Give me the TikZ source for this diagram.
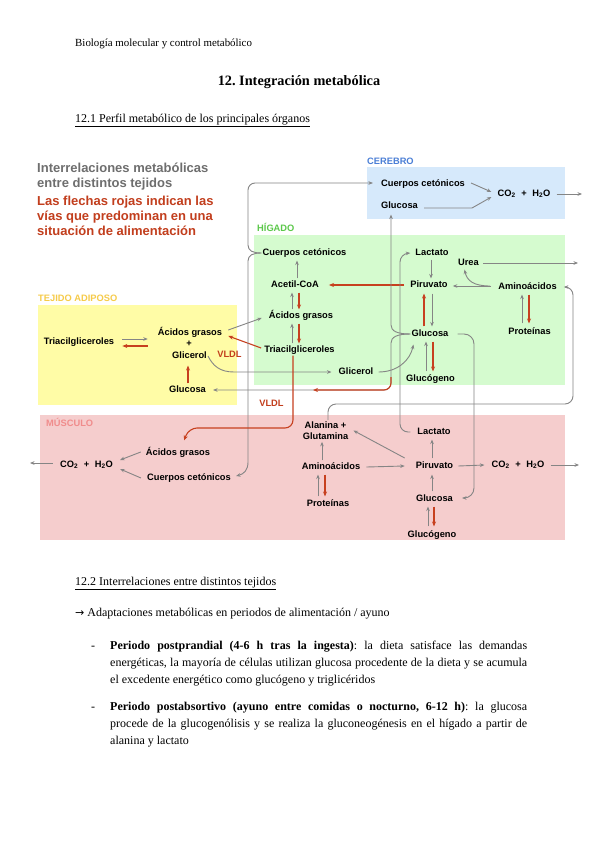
\documentclass[tikz,border=0pt]{standalone}
\usepackage{fontspec}
\setmainfont{Liberation Serif}
\newfontfamily\arialf{Liberation Sans}
\newfontfamily\arrowf{DejaVu Sans}
\usetikzlibrary{arrows.meta,calc}
\frenchspacing
\definecolor{gline}{HTML}{858585}
\definecolor{rline}{HTML}{C7401F}
\definecolor{gtitle}{HTML}{6E6E6E}
\definecolor{rtitle}{HTML}{C23E1D}
\definecolor{brainbg}{HTML}{D6E9FB}
\definecolor{liverbg}{HTML}{D5FBCF}
\definecolor{fatbg}{HTML}{FFFCA6}
\definecolor{musbg}{HTML}{F5CDCD}
\definecolor{brainlab}{HTML}{4B7FD6}
\definecolor{liverlab}{HTML}{5CC84B}
\definecolor{fatlab}{HTML}{F6CB4A}
\definecolor{muslab}{HTML}{F08C8C}
\newcommand\cotwo{CO\textsubscript{2}\hspace{3pt} +\hspace{3pt} H\textsubscript{2}O}
\tikzset{
  metb/.style={font=\arialf\bfseries\fontsize{9.3}{11.5}\selectfont, inner sep=1pt},
  met/.style={metb, text height=6.8pt, text depth=1.9pt},
  redlab/.style={met, text=rtitle},
  reglab/.style={font=\arialf\bfseries\fontsize{9.3}{11}\selectfont, inner sep=0pt, anchor=base west},
  bigt/.style={font=\arialf\bfseries\fontsize{13}{15}\selectfont, inner sep=0pt, anchor=base west},
  gar/.style={draw=gline, line width=0.9pt, -{Stealth[length=4.5pt,width=3.6pt]}},
  rar/.style={draw=rline, line width=1.1pt, -{Stealth[length=5pt,width=4pt]}},
  doc/.style={inner sep=0pt, anchor=base west, font=\fontsize{12}{17}\selectfont},
}
\begin{document}
\begin{tikzpicture}[x=1pt,y=-1pt]
\fill[white] (0,0) rectangle (600,848);
\useasboundingbox (0,0) rectangle (600,848);

% ---------- document text ----------
\node[doc, font=\fontsize{10.9}{12}\selectfont] (hdr) at (75,47) {Biología molecular y control metabólico};
\node[inner sep=0pt, anchor=base, font=\bfseries\fontsize{14.3}{16}\selectfont] (ttl) at (299,86) {12. Integración metabólica};
\node[doc] (s1) at (75,122) {\underline{12.1 Perfil metabólico de los principales órganos}};

% ---------- region boxes ----------
\fill[brainbg] (367,167) rectangle (565,219);
\fill[liverbg] (254,235) rectangle (565,385);
\fill[fatbg] (38,305) rectangle (237,405);
\fill[musbg] (40,415) rectangle (565,540);

\node[reglab, text=brainlab] (labB) at (367,164.5) {CEREBRO};
\node[reglab, text=liverlab] (labL) at (257,231.5) {HÍGADO};
\node[reglab, text=fatlab] (labA) at (38,301.5) {TEJIDO ADIPOSO};
\node[reglab, text=muslab] (labM) at (46,426.5) {MÚSCULO};

% ---------- diagram titles ----------
\node[bigt, text=gtitle] (t1) at (37,172) {Interrelaciones metabólicas};
\node[bigt, text=gtitle] (t2) at (37,187) {entre distintos tejidos};
\node[bigt, text=rtitle] (t3) at (37,205) {Las flechas rojas indican las};
\node[bigt, text=rtitle] (t4) at (37,220) {vías que predominan en una};
\node[bigt, text=rtitle] (t5) at (37,235) {situación de alimentación};

% ---------- brain ----------
\node[met] (bCC) at (423,184) {Cuerpos cetónicos};
\node[met] (bGlu) at (399.5,206) {Glucosa};
\node[met] (bCO) at (524,194) {\cotwo};
\coordinate (bOut) at (582,194);

% ---------- liver ----------
\node[met] (lCC) at (304.5,253) {Cuerpos cetónicos};
\node[met] (lAc) at (295,285) {Acetil-CoA};
\node[met] (lAG) at (301,316) {Ácidos grasos};
\node[met] (lTG) at (299.5,350) {Triacilgliceroles};
\node[met] (lGli) at (356,372) {Glicerol};
\node[met] (lLac) at (432,253) {Lactato};
\node[met] (lUrea) at (468.5,263) {Urea};
\node[met] (lPir) at (429,285) {Piruvato};
\node[met] (lAA) at (527.5,287) {Aminoácidos};
\node[met] (lProt) at (529.5,332) {Proteínas};
\node[met] (lGlu) at (430,334) {Glucosa};
\node[met] (lGlg) at (430.5,379) {Glucógeno};
\coordinate (uOut) at (578,263);

% ---------- adipose ----------
\node[met] (aTG) at (79,342) {Triacilgliceroles};
\node[met] (aAG) at (190,333) {Ácidos grasos};
\node[met] (aPlus) at (189,344.5) {+};
\node[met] (aGli) at (189.5,356) {Glicerol};
\node[met] (aGlu) at (187.5,390) {Glucosa};
\node[redlab] (vldl1) at (229.5,355) {VLDL};

% ---------- muscle ----------
\node[met] (mAG) at (178,453) {Ácidos grasos};
\node[met] (mCC) at (189,478) {Cuerpos cetónicos};
\node[met] (mCO) at (86.5,465) {\cotwo};
\node[metb, align=center] (mAla) at (325.5,430.5) {Alanina +\\Glutamina};
\node[met] (mAA) at (331,467) {Aminoácidos};
\node[met] (mProt) at (328,504) {Proteínas};
\node[met] (mLac) at (434,432) {Lactato};
\node[met] (mPir) at (434.5,466) {Piruvato};
\node[met] (mCOr) at (518,465) {\cotwo};
\node[met] (mGlu) at (434.5,499) {Glucosa};
\node[met] (mGlg) at (432,535) {Glucógeno};
\node[redlab] (vldl2) at (271.5,404) {VLDL};
\coordinate (mOutL) at (30,463);
\coordinate (mOutR) at (579,465);

% ---------- brain arrows ----------
\draw[gar] ($(bCC.east)+(5,-1)$) -- ($(bCO.west)+(-5,-2)$);
\draw[gar] ($(bGlu.east)+(5,2)$) -- (472,208) -- ($(bCO.west)+(-5,3)$);
\draw[gar] ($(bCO.east)+(5,0)$) -- (bOut);

% ---------- liver arrows ----------
\draw[gar] ($(lAc.north)+(2,-1)$) -- ($(lCC.south -| lAc)+(2,2)$);
\draw[gar] ($(lAG.north -| lAc)+(-3,-1)$) -- ($(lAc.south)+(-3,2)$);
\draw[rar] ($(lAc.south)+(4,2)$) -- ($(lAG.north -| lAc)+(4,-1)$);
\draw[gar] ($(lTG.north -| lAc)+(-3,-1)$) -- ($(lAG.south -| lAc)+(-3,2)$);
\draw[rar] ($(lAG.south -| lAc)+(4,2)$) -- ($(lTG.north -| lAc)+(4,-1)$);
\draw[rar] ($(lPir.west)+(-5,0)$) -- ($(lAc.east)+(9,0)$);
\draw[gar] ($(lLac.south)+(-1,1)$) -- ($(lPir.north -| lLac)+(-1,-1)$);
\draw[rar] ($(lGlu.north -| lPir)+(-5,-2)$) -- ($(lPir.south)+(-5,3)$);
\draw[gar] ($(lPir.south)+(3,3)$) -- ($(lGlu.north -| lPir)+(3,-2)$);
\draw[gar] ($(lGlg.north -| lGlu)+(-4,-2)$) -- ($(lGlu.south)+(-4,2)$);
\draw[rar] ($(lGlu.south)+(3,2)$) -- ($(lGlg.north -| lGlu)+(3,-2)$);
\draw[gar] ($(lProt.north -| lAA)+(-5.5,-3)$) -- ($(lAA.south)+(-5.5,2)$);
\draw[rar] ($(lAA.south)+(1.5,2)$) -- ($(lProt.north -| lAA)+(1.5,-3)$);
\draw[gar] ($(lAA.west)+(-6,-1)$) -- ($(lPir.east)+(4,1)$);
\draw[gar] ($(lAA.west)+(-7,-1)$) .. controls (474,286) and (467,281) .. ($(lUrea.south)+(-4,1)$);
\draw[gar] ($(lUrea.east)+(3,0)$) -- (uOut);
\draw[gar] ($(lGli.east)+(4,0)$) .. controls (398,372) and (410,360) .. ($(lGlu.south west)+(3,5)$);

% ---------- adipose arrows ----------
\draw[gar] ($(aTG.east)+(7,-3)$) -- ($(aAG.west |- aTG)+(-9,-3)$);
\draw[rar] ($(aAG.west |- aTG)+(-9,4)$) -- ($(aTG.east)+(7,4)$);
\draw[rar] ($(aGlu.north)+(0.5,-1)$) -- ($(aGli.south -| aGlu)+(0.5,4)$);
\draw[gar] ($(aAG.east)+(5,-3)$) -- ($(lAG.west)+(-6,2)$);
\draw[rar] ($(lTG.west)+(-2,-2)$) -- ($(aAG.east)+(5,3)$);
\draw[gar] (aGli.east) .. controls (213,366) and (220,372) .. (234,372) -- ($(lGli.west)+(-6,0)$);

% ---------- muscle arrows ----------
\draw[gar] ($(mAG.west)+(-4,-1)$) -- ($(mCO.east)+(6,-5)$);
\draw[gar] ($(mCC.west)+(-5,0)$) -- ($(mCO.east)+(6,4)$);
\draw[gar] ($(mCO.west)+(-6,-2)$) -- (mOutL);
\draw[gar] ($(mAA.north -| mAla)+(-3.5,-1)$) -- ($(mAla.south)+(-3.5,1)$);
\draw[gar] ($(mProt.north)+(-10,-2)$) -- ($(mAA.south -| mProt)+(-10,2)$);
\draw[rar] ($(mAA.south -| mProt)+(-3,2)$) -- ($(mProt.north)+(-3,-2)$);
\draw[gar] ($(mAA.east)+(5,0)$) -- ($(mPir.west)+(-10,0)$);
\draw[gar] ($(mPir.west)+(-10,-8)$) -- ($(mAla.east)+(4,0)$);
\draw[gar] ($(mPir.north)+(-2.5,-2)$) -- ($(mLac.south -| mPir)+(-2.5,2)$);
\draw[gar] ($(mGlu.north)+(-2.5,-2)$) -- ($(mPir.south)+(-2.5,3)$);
\draw[gar] ($(mGlg.north -| mGlu)+(-6.5,-3)$) -- ($(mGlu.south)+(-6.5,2)$);
\draw[rar] ($(mGlu.south)+(-0.5,2)$) -- ($(mGlg.north -| mGlu)+(-0.5,-3)$);
\draw[gar] ($(mPir.east)+(4,0)$) -- ($(mCOr.west)+(-6,0)$);
\draw[gar] ($(mCOr.east)+(5,0)$) -- (mOutR);

% ---------- long connectors ----------
% ketone bodies: liver -> brain, liver -> muscle
\draw[gar] (lCC.west) .. controls (253,253) and (248,251) .. (248,245)
  [rounded corners=7pt] -- (248,183) -- ($(bCC.west)+(-7,-1)$);
\draw[gar] (lCC.west) .. controls (253,253) and (248,255) .. (248,261)
  -- (248,462) .. controls (248,470) and (244,474) .. ($(mCC.east)+(4,-2)$);
% glucose: liver -> brain, adipose, muscle
\draw[gar] (lGlu.west) .. controls (397,334) and (391,331) .. (391,325)
  -- ($(bGlu.south)+(-8.5,3)$);
\draw[gar] (lGlu.west) .. controls (397,334) and (391,337) .. (391,343)
  [rounded corners=7pt] -- (391,390) -- ($(aGlu.east)+(6,0)$);
\coordinate (gluCorner) at (391,377);
\coordinate (redEnd) at (313,390);
\draw[rar, rounded corners=7pt] (gluCorner) -- (391,390) -- (redEnd);
\draw[gar, rounded corners=10pt] ($(lGlu.east)+(8,0)$) -- (474,334) -- (474,498) -- ($(mGlu.east)+(8,-1)$);
% lactate: muscle -> liver
\draw[gar, rounded corners=8pt] ($(mLac.west)+(-6,0)$) -- (400,432) -- (400,254) -- ($(lLac.west)+(-4,0)$);
% alanine + glutamine -> liver amino acids
\draw[gar, rounded corners=8pt] ($(mAla.north)+(2.5,0)$) -- (328,404) -- (573,404) -- (573,287) -- ($(lAA.east)+(6,0)$);
% VLDL: liver -> muscle
\draw[rar, rounded corners=8pt] ($(lTG.south)+(-6.5,0)$) -- (293,428) -- (189,428) -- ($(mAG.north)+(6,-7)$);

% ---------- text below ----------
\node[doc] (s2) at (75,585) {\underline{12.2 Interrelaciones entre distintos tejidos}};
\node[doc] (arr) at (75,616) {{\arrowf\fontsize{11}{12}\selectfont →} Adaptaciones metabólicas en periodos de alimentación / ayuno};
\node[doc] (d1) at (91,649) {-};
\node[doc] (p1a) at (110,649) {\makebox[417pt][s]{\textbf{Periodo postprandial (4-6 h tras la ingesta)}: la dieta satisface las demandas}};
\node[doc] (p1b) at (110,666) {\makebox[417pt][s]{energéticas, la mayoría de células utilizan glucosa procedente de la dieta y se acumula}};
\node[doc] (p1c) at (110,683) {el excedente energético como glucógeno y triglicéridos};
\node[doc] (d2) at (91,710) {-};
\node[doc] (p2a) at (110,710) {\makebox[417pt][s]{\textbf{Periodo postabsortivo (ayuno entre comidas o nocturno, 6-12 h)}: la glucosa}};
\node[doc] (p2b) at (110,727) {\makebox[417pt][s]{procede de la glucogenólisis y se realiza la gluconeogénesis en el hígado a partir de}};
\node[doc] (p2c) at (110,744) {alanina y lactato};
\end{tikzpicture}
\end{document}
